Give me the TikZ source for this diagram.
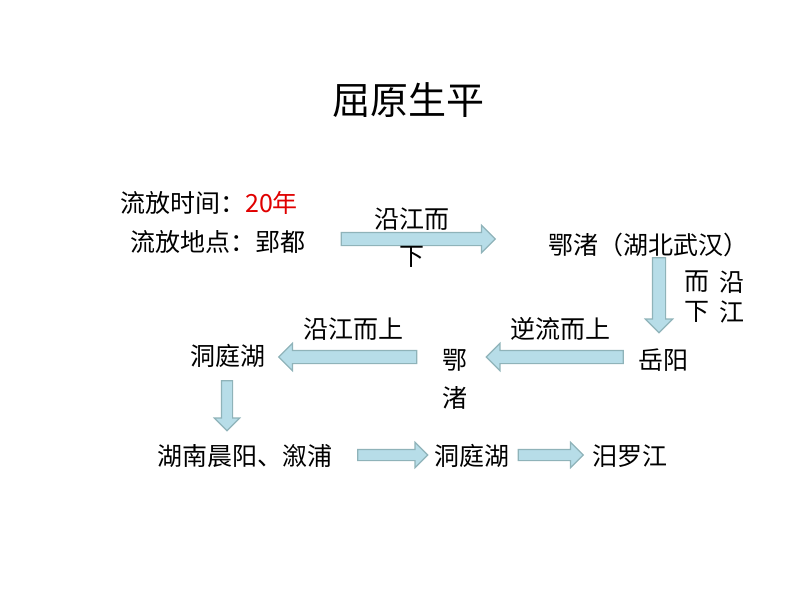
\documentclass[tikz,border=0pt]{standalone}
\usepackage{fontspec}
\setmainfont{Noto Sans CJK SC}
\usetikzlibrary{shapes.arrows}
\definecolor{arrowfill}{HTML}{B7DDE8}
\definecolor{arrowline}{HTML}{8FB3B9}
\definecolor{yearred}{HTML}{E00000}
\tikzset{
  txt/.style={font=\fontsize{25}{28}\selectfont, inner sep=0pt},
  blockarrow/.style={single arrow, draw=arrowline, fill=arrowfill, line width=1.2pt,
    minimum width=27pt, inner sep=6pt}
}
\begin{document}
\begin{tikzpicture}[x=1pt, y=-1pt]
\useasboundingbox (0,0) rectangle (794,596);
\node[font=\fontsize{38}{42}\selectfont] (title) at (408,100) {屈原生平};
\node[txt, anchor=west] (time) at (120,203) {流放时间：\textcolor{yearred}{20年}};
\node[txt, anchor=west] (place) at (130,242) {流放地点：郢都};
\node[txt] (ezhu1) at (648,245) {鄂渚（湖北武汉）};
\node[txt] (yueyang) at (663,360) {岳阳};
\node[txt, align=center, font=\fontsize{25}{38}\selectfont] (ezhu2) at (455,379) {鄂\\渚};
\node[txt] (dongting1) at (228,356) {洞庭湖};
\node[txt] (hunan) at (245,456) {湖南晨阳、溆浦};
\node[txt] (dongting2) at (472,456) {洞庭湖};
\node[txt] (miluo) at (630,456) {汨罗江};
% block arrows
\node[blockarrow, minimum height=154pt] (a1) at (415,239) {};
\node[blockarrow, minimum height=75pt, shape border rotate=270] (a2) at (659,292) {};
\node[blockarrow, minimum height=137pt, shape border rotate=180] (a3) at (558,357) {};
\node[blockarrow, minimum height=138pt, shape border rotate=180] (a4) at (351,357) {};
\node[blockarrow, minimum height=50pt, shape border rotate=270, minimum width=24pt, inner sep=5pt] (a5) at (227,403) {};
\node[blockarrow, minimum height=70pt, minimum width=22pt, inner sep=5pt] (a6) at (390,455) {};
\node[blockarrow, minimum height=65pt, minimum width=22pt, inner sep=5pt] (a7) at (548,455) {};
% arrow labels
\node[txt] (l1) at (412,219) {沿江而};
\node[txt] (l1b) at (412,257) {下};
\node[txt, align=center, font=\fontsize{25}{30}\selectfont] (l2a) at (697,297) {而\\下};
\node[txt, align=center, font=\fontsize{25}{30}\selectfont] (l2b) at (732,297) {沿\\江};
\node[txt] (l3) at (560,329) {逆流而上};
\node[txt] (l4) at (353,329) {沿江而上};
\end{tikzpicture}
\end{document}
